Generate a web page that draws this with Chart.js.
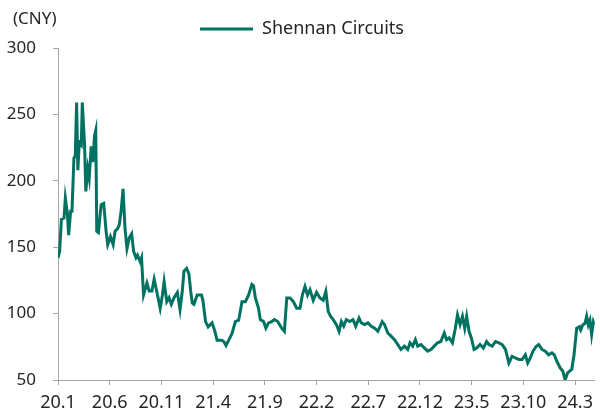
<!DOCTYPE html>
<html>
<head>
<meta charset="utf-8">
<script src="https://cdn.jsdelivr.net/npm/chart.js@4.4.1/dist/chart.umd.min.js"></script>
<style>
    html, body { margin: 0; padding: 0; background: #fff; }
    #wrap { width: 600px; height: 415px; }
</style>
</head>
<body>
<div id="wrap"><canvas id="chart"></canvas></div>
<script>
// months since Jan 2020 (20.1 = 0)
const months = [
    0.0, 0.16, 0.33, 0.58, 0.71, 0.9, 1.03, 1.22, 1.35, 1.54, 1.67, 1.8, 1.92, 2.06, 2.25, 2.35, 2.57, 2.69, 2.88, 3.02,
    3.21, 3.37, 3.53, 3.65, 3.75, 3.91, 4.17, 4.42, 4.65, 4.81, 5.07, 5.33, 5.52, 5.77, 5.93, 6.1, 6.29, 6.48, 6.67, 6.89,
    7.12, 7.31, 7.54, 7.69, 7.95, 8.08, 8.27, 8.6, 8.82, 9.08, 9.3, 9.62, 9.88, 10.1, 10.26, 10.52, 10.74, 10.96, 11.22, 11.54,
    11.8, 12.02, 12.18, 12.44, 12.66, 12.83, 12.98, 13.14, 13.46, 13.88, 14.01, 14.27, 14.52, 14.9, 15.16, 15.38, 15.81, 16.03, 16.25, 16.51,
    16.83, 17.15, 17.47, 17.79, 18.12, 18.43, 18.75, 18.91, 19.08, 19.39, 19.56, 19.88, 20.1, 20.36, 20.67, 20.93, 21.25, 21.63, 21.89, 22.12,
    22.44, 22.76, 23.08, 23.4, 23.63, 23.88, 24.13, 24.37, 24.68, 25.0, 25.33, 25.64, 25.9, 26.13, 26.35, 26.61, 26.92, 27.18, 27.4, 27.63,
    27.88, 28.21, 28.53, 28.79, 29.11, 29.33, 29.65, 29.97, 30.29, 30.62, 30.93, 31.35, 31.58, 31.89, 32.21, 32.54, 32.86, 33.17, 33.5, 33.82,
    34.04, 34.3, 34.56, 34.78, 35.1, 35.42, 35.74, 36.06, 36.38, 36.7, 37.02, 37.35, 37.57, 37.83, 38.14, 38.4, 38.63, 38.88, 39.11, 39.33,
    39.52, 39.75, 39.97, 40.23, 40.48, 40.81, 41.13, 41.44, 41.67, 41.99, 42.31, 42.63, 42.95, 43.27, 43.6, 43.91, 44.23, 44.56, 44.88, 45.19,
    45.42, 45.67, 45.93, 46.25, 46.48, 46.8, 47.12, 47.44, 47.76, 47.98, 48.24, 48.56, 48.82, 49.04, 49.27, 49.68, 49.9, 50.16, 50.42, 50.55,
    50.74, 50.96, 51.12, 51.28, 51.44, 51.6, 51.77, 51.9
];

// share price, CNY
const prices = [
    142, 147, 171, 172, 187, 176, 159, 177, 177, 217, 219, 259, 208, 229, 227, 259, 227, 192, 209, 202,
    226, 214, 234, 238, 162, 161, 182, 183, 162, 152, 158, 152, 162, 164, 167, 177, 194, 164, 149, 157,
    160, 147, 142, 144, 139, 142, 114, 123, 117, 117, 126, 114, 104, 114, 124, 109, 112, 107, 112, 116,
    103, 117, 132, 134, 130, 117, 108, 107, 114, 114, 110, 94, 90, 93, 87, 80, 80, 79, 76, 80,
    85, 94, 95, 109, 109, 114, 122, 121, 112, 104, 95.5, 94, 89, 93, 94, 95.5, 94, 89, 86.7, 111.7,
    111.7, 109, 104, 104, 114, 120.5, 114, 118, 110, 116, 111.7, 110, 116.8, 101.7, 98, 95.5, 91.7, 86.7, 94, 90.5,
    95.5, 94, 95.5, 90.5, 96.7, 93, 91.7, 93, 90.5, 89, 86.7, 94, 91.7, 85.4, 83, 80.4, 76.7, 73, 75.5, 73,
    78, 75.5, 80.4, 75.5, 76.7, 74.2, 71.7, 73, 75.5, 78, 79, 85.4, 80.4, 81.7, 78, 88, 99, 91.7, 97.9, 89,
    97.9, 86.7, 81.7, 73, 74, 76.7, 74, 79, 76.7, 75.5, 79, 78, 76.7, 73, 62.8, 67.9, 66.6, 65.4, 65.4, 69,
    62.8, 66.6, 71.7, 75.4, 76.7, 73, 71.7, 69, 70.4, 69, 64.1, 59.1, 56.6, 50, 55.3, 57.9, 69, 89, 90.2, 87.7,
    91.4, 92.7, 98, 91.4, 95, 84.2, 93.9, 91.4
];

const seriesName = 'Shennan Circuits';
const unitLabel = '(CNY)';
const yTicks = [50, 100, 150, 200, 250, 300];
const xTickStep = 5;

const lineColor = '#007262';
const axisColor = '#a6a6a6';
const textColor = '#262626';
const fontFamily = '"Noto Sans", "Open Sans", sans-serif';

// unit label in the top left corner
const unitPlugin = {
    id: 'unitLabel',
    afterDraw(chart) {
        const ctx = chart.ctx;
        ctx.save();
        ctx.font = '17px ' + fontFamily;
        ctx.fillStyle = textColor;
        ctx.textBaseline = 'middle';
        ctx.textAlign = 'left';
        ctx.fillText(unitLabel, 13, 19);
        ctx.restore();
    }
};

const ctx = document.getElementById('chart').getContext('2d');
new Chart(ctx, {
    type: 'line',
    data: {
        datasets: [{
            label: seriesName,
            data: months.map((m, i) => ({ x: m, y: prices[i] })),
            borderColor: lineColor,
            backgroundColor: lineColor,
            borderWidth: 3,
            pointRadius: 0,
            tension: 0,
            fill: false
        }]
    },
    options: {
        responsive: true,
        maintainAspectRatio: false,
        animation: false,
        layout: { padding: { left: 6, right: 2, top: 12, bottom: 0 } },
        plugins: {
            legend: {
                display: true,
                position: 'top',
                labels: {
                    usePointStyle: true,
                    pointStyle: 'line',
                    pointStyleWidth: 53,
                    boxWidth: 53,
                    padding: 8,
                    color: textColor,
                    font: { family: fontFamily, size: 18 }
                }
            },
            tooltip: { enabled: false }
        },
        scales: {
            x: {
                type: 'linear',
                min: 0,
                max: months[months.length - 1],
                border: { display: true, color: axisColor, width: 1 },
                grid: { display: true, drawOnChartArea: false, color: axisColor, tickLength: 5 },
                afterFit: (scale) => { scale.height = 35; },
                ticks: {
                    stepSize: xTickStep,
                    includeBounds: false,
                    autoSkip: false,
                    maxRotation: 0,
                    padding: 7,
                    color: textColor,
                    font: { family: fontFamily, size: 18 },
                    callback: (v) => {
                        const yr = 20 + Math.floor(v / 12);
                        const mo = (v % 12) + 1;
                        return yr + '.' + mo;
                    }
                }
            },
            y: {
                min: yTicks[0],
                max: yTicks[yTicks.length - 1],
                border: { display: true, color: axisColor, width: 1 },
                grid: { display: true, drawOnChartArea: false, color: axisColor, tickLength: 5 },
                afterBuildTicks: (scale) => {
                    scale.ticks = yTicks.map(v => ({ value: v }));
                },
                afterFit: (scale) => { scale.width = 52; },
                ticks: {
                    padding: 17,
                    color: textColor,
                    font: { family: fontFamily, size: 17 }
                }
            }
        }
    },
    plugins: [unitPlugin]
});
</script>
</body>
</html>
